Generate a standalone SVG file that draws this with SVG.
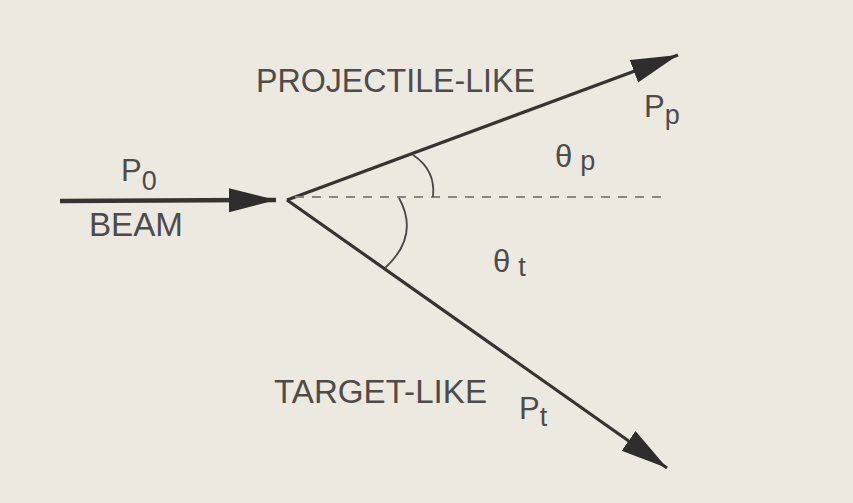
<svg xmlns="http://www.w3.org/2000/svg" width="853" height="503" viewBox="0 0 853 503">
<style>
.bg{fill:#ECE9E0}
.ln{stroke:#363433;fill:none}
.dash{stroke:#8a8684;stroke-width:2;stroke-dasharray:9 8;fill:none}
.arc{stroke:#4a4846;stroke-width:1.8;fill:none}
.t{font-family:"Liberation Sans",Arial,sans-serif;fill:#4e4c4a}
.big{font-size:33px}
.lab{font-size:31px}
.sub{font-size:27px}
</style>
<defs>
<marker id="ah" markerUnits="userSpaceOnUse" markerWidth="50" markerHeight="26" refX="47" refY="12" orient="auto">
<path d="M0,0 L47,12 L0,24 Z" fill="#2f2d2c"/>
</marker>
</defs>
<rect class="bg" x="0" y="0" width="853" height="503"/>
<g id="connectors">
<line id="beam" class="ln" x1="60" y1="201" x2="276" y2="200" stroke-width="4.5" marker-end="url(#ah)"/>
<line id="proj" class="ln" x1="287" y1="200" x2="678" y2="55" stroke-width="3.2" marker-end="url(#ah)"/>
<line id="targ" class="ln" x1="287" y1="200" x2="667" y2="468" stroke-width="3.2" marker-end="url(#ah)"/>
<line id="axis" class="dash" x1="295" y1="197" x2="665" y2="197"/>
<path id="arc-p" class="arc" d="M413,155 Q436,170 433,197"/>
<path id="arc-t" class="arc" d="M399,198 Q420,236 385,268"/>
</g>
<g id="beam-label">
<text class="t lab" x="121" y="181">P<tspan class="sub" dy="9">0</tspan></text>
<text class="t big" x="89" y="236" textLength="94" lengthAdjust="spacingAndGlyphs">BEAM</text>
</g>
<g id="projectile-label">
<text class="t big" x="256" y="92" textLength="279" lengthAdjust="spacingAndGlyphs">PROJECTILE-LIKE</text>
<text class="t lab" x="644" y="117">P<tspan class="sub" dy="7">p</tspan></text>
<text class="t lab" x="555" y="167">θ<tspan class="sub" dx="8" dy="3">p</tspan></text>
</g>
<g id="target-label">
<text class="t big" x="274" y="403" textLength="213" lengthAdjust="spacingAndGlyphs">TARGET-LIKE</text>
<text class="t lab" x="519" y="419">P<tspan class="sub" dy="7">t</tspan></text>
<text class="t lab" x="493" y="272">θ<tspan class="sub" dx="8" dy="4">t</tspan></text>
</g>
</svg>
